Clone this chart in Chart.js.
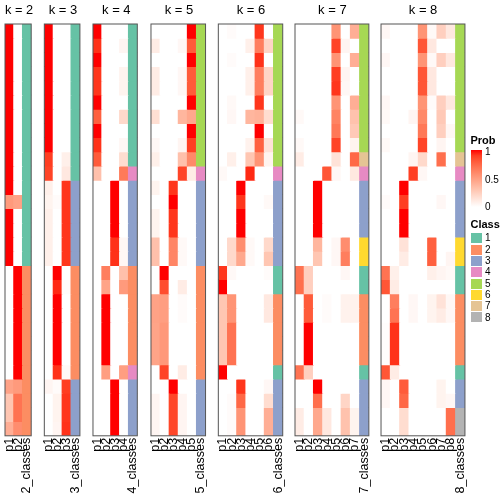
<!DOCTYPE html>
<html><head><meta charset="utf-8">
<script src="https://cdn.jsdelivr.net/npm/chart.js@4.4.0/dist/chart.umd.min.js"></script>
<style>
html,body{margin:0;padding:0;background:#fff;width:504px;height:504px;overflow:hidden;font-family:"Liberation Sans",Arial,sans-serif;}
#wrap{position:relative;width:504px;height:504px;}
canvas{position:absolute;top:0;}
.lg{position:absolute;color:#000;line-height:1;white-space:nowrap;font-family:"Liberation Sans",Arial,sans-serif;}
.lt{font-size:11px;font-weight:bold;}
.ll{font-size:10px;}
.sw{position:absolute;width:11px;height:10px;}
</style></head><body><div id="wrap"></div>
<script>
const kValues = [2,3,4,5,6,7,8];
const classColors = ['#66C2A5','#FC8D62','#8DA0CB','#E78AC3','#A6D854','#FFD92F','#E5C494','#B3B3B3'];
const classNames = ['1','2','3','4','5','6','7','8'];
const probTicks = ['1','0.5','0'];

const probs2 = [
[1,0],[1,0],[1,0],[1,0],[1,0],[1,0],[1,0],[1,0],[1,0],[1,0],[1,0],[1,0],
[0.52,0.48],
[1,0],[1,0],[1,0],[1,0],
[0,1],[0,1],[0,1],[0,1],[0,1],[0,1],[0,1],[0,1],
[0.48,0.52],[0.3,0.7],[0.3,0.7],[0.42,0.58]];
const classes2 = [1,1,1,1,1,1,1,1,1,1,1,1,1,1,1,1,1,2,2,2,2,2,2,2,2,2,2,2,2];

const probs3 = [
[1,0,0],[1,0,0],[1,0,0],[1,0,0],[1,0,0],[1,0,0],[1,0,0],[1,0,0],[1,0,0],
[0.9,0,0.08],[0.88,0,0.12],
[0.08,0,0.92],[0.06,0.02,0.92],[0.08,0,0.92],[0.08,0,0.92],[0.08,0,0.92],[0.08,0,0.92],
[0,1,0],[0,0.95,0.02],[0,1,0],[0,1,0],[0,1,0],[0,1,0],[0,1,0],[0,0.93,0.03],
[0.05,0.02,0.9],[0,0.06,0.92],[0,0.06,0.92],[0,0.05,0.93]];
const classes3 = [1,1,1,1,1,1,1,1,1,1,1,3,3,3,3,3,3,2,2,2,2,2,2,2,2,3,3,3,3];

const probs4 = [
[1,0,0,0],[0.93,0,0,0.05],[1,0,0,0],[0.92,0,0,0.06],[0.92,0,0,0.06],[1,0,0,0],
[0.78,0,0,0.2],[1,0,0,0],[0.93,0,0,0.04],[0.8,0,0,0.18],
[0.33,0,0,0.67],
[0,0,1,0],[0,0,1,0],[0,0,1,0],[0,0,1,0],[0,0,0.93,0.04],[0,0,0.93,0.04],
[0,0.65,0,0.33],[0,0.47,0,0.52],[0,1,0,0],[0,1,0,0],[0,1,0,0],[0,1,0,0],[0,1,0,0],
[0,0.5,0,0.5],
[0,0,1,0],[0,0,1,0],[0,0,1,0],[0,0,1,0]];
const classes4 = [1,1,1,1,1,1,1,1,1,1,4,3,3,3,3,3,3,2,2,2,2,2,2,2,4,3,3,3,3];

const probs5 = [
[0,0,0,0,1],[0.1,0,0,0.04,0.8],[0,0,0,0,1],[0.1,0,0,0.04,0.8],[0.1,0,0,0.04,0.8],
[0,0,0,0,1],[0.17,0,0,0.38,0.45],[0,0,0,0,1],[0.04,0,0,0.05,0.9],[0.08,0,0,0.33,0.6],
[0,0,0,0.88,0.1],
[0.06,0,0.92,0,0],[0,0,1,0,0],[0.06,0,0.92,0,0],[0.06,0,0.92,0,0],[0.33,0,0.62,0.03,0],[0.33,0,0.62,0.03,0],
[0,1,0,0,0],[0,0.85,0,0.1,0],[0.48,0.5,0,0.02,0],[0.48,0.5,0,0.02,0],[0.47,0.53,0,0,0],[0.47,0.53,0,0,0],[0.47,0.53,0,0,0],[0,0.88,0,0.1,0],
[0,0,1,0,0],[0.05,0,0.87,0.05,0],[0.05,0,0.87,0.05,0],[0.05,0,0.87,0.05,0]];
const classes5 = [5,5,5,5,5,5,5,5,5,5,4,3,3,3,3,3,3,2,2,2,2,2,2,2,2,3,3,3,3];

const probs6 = [
[0,0.02,0,0,0.92,0],[0,0,0,0.08,0.65,0.22],[0,0.02,0,0,0.93,0],[0,0,0,0.08,0.65,0.22],[0,0,0,0.08,0.65,0.22],
[0,0.03,0,0,0.92,0],[0,0.04,0,0.38,0.4,0.18],[0,0,0,0,1,0],[0,0,0,0.07,0.78,0.15],[0,0.08,0,0.3,0.55,0.06],
[0.03,0,0,0.95,0,0],
[0,0,1,0,0,0],[0,0,0.92,0,0,0.03],[0,0,1,0,0,0],[0,0,1,0,0,0],[0,0.2,0.58,0.03,0,0.2],[0,0.2,0.45,0.03,0,0.3],
[0.92,0.03,0,0,0,0.02],[1,0,0,0,0,0],
[0.3,0.55,0,0,0,0.12],[0.3,0.55,0,0,0,0.12],[0.3,0.7,0,0,0,0],[0.3,0.7,0,0,0,0],[0.3,0.7,0,0,0,0],
[1,0,0,0,0,0],
[0,0,0.92,0,0,0.04],[0,0.02,0.75,0,0,0.18],[0,0.02,0.55,0,0,0.42],[0,0.02,0.55,0,0,0.42]];
const classes6 = [5,5,5,5,5,5,5,5,5,5,4,3,3,3,3,3,3,1,1,2,2,2,2,2,1,3,3,3,3];

const probs7 = [
[0,0,0,0,0.55,0,0.42],[0,0,0,0,0.88,0.05,0],[0,0,0,0,0.55,0,0.42],[0,0,0,0,0.9,0.05,0],[0,0,0,0,0.92,0.04,0],
[0,0,0,0,0.55,0,0.42],[0.03,0,0,0,0.63,0,0.32],[0,0,0,0,0.68,0,0.28],[0.03,0,0,0,0.88,0,0.06],
[0.1,0,0,0,0.15,0,0.75],
[0,0,0,0.82,0.04,0,0.12],
[0,0,1,0,0,0,0],[0,0,1,0,0,0,0],[0,0,1,0,0,0,0],[0,0,1,0,0,0,0],
[0,0,0.38,0,0.04,0.58,0],[0,0,0.3,0,0.04,0.65,0],
[0.7,0.25,0,0,0,0.04,0],[0.72,0.25,0,0,0,0,0],
[0,0.8,0,0.02,0,0.07,0.07],[0,0.8,0,0.02,0,0.07,0.07],[0,1,0,0,0,0,0],[0,1,0,0,0,0,0],[0,1,0,0,0,0,0],
[0.7,0.25,0,0,0,0,0],
[0,0,1,0,0,0,0],[0,0,0.72,0,0,0.22,0],[0.1,0,0.45,0.12,0,0.32,0.06],[0.1,0,0.45,0.12,0,0.32,0.06]];
const classes7 = [5,5,5,5,5,5,5,5,5,7,4,3,3,3,3,6,6,1,1,2,2,2,2,2,1,3,3,3,3];

const probs8 = [
[0.04,0,0,0,0.55,0.03,0.25,0.12],[0,0,0,0,0.82,0.12,0,0],[0.04,0,0,0,0.55,0.03,0.25,0.12],[0,0,0,0,0.82,0.12,0,0],[0,0,0,0,0.82,0.12,0,0],
[0.04,0,0,0,0.55,0.02,0.25,0.12],[0.03,0,0,0.05,0.6,0,0.28,0],[0,0,0,0,0.68,0,0.25,0.04],[0.03,0,0,0,0.88,0,0.05,0],
[0,0,0,0.05,0.2,0,0.72,0],
[0,0,0,0.9,0.04,0,0,0],
[0,0,1,0,0,0,0,0],[0.02,0,0.9,0,0,0,0.04,0],[0,0,1,0,0,0,0,0],[0,0,1,0,0,0,0,0],
[0,0,0.15,0,0,0.78,0,0],[0,0,0.1,0,0,0.78,0,0.05],
[0.7,0.08,0,0,0,0.08,0.05,0.03],[0.82,0.1,0,0,0,0,0,0],
[0,0.65,0,0.04,0,0.06,0.15,0.04],[0,0.7,0,0.04,0,0.06,0.1,0.04],[0.01,0.93,0,0,0,0,0,0],[0.01,0.93,0,0,0,0,0,0],[0.01,0.93,0,0,0,0,0,0],
[0.82,0.1,0,0,0,0,0,0],
[0.04,0,0.8,0,0,0,0.06,0],[0.04,0,0.75,0,0,0,0.06,0.04],[0,0,0.18,0,0,0,0,0.72],[0,0,0.18,0,0,0,0,0.72]];
const classes8 = [5,5,5,5,5,5,5,5,5,7,4,3,3,3,3,6,6,1,1,2,2,2,2,2,1,3,3,8,8];

const allProbs = [probs2,probs3,probs4,probs5,probs6,probs7,probs8];
const allClasses = [classes2,classes3,classes4,classes5,classes6,classes7,classes8];

// ---- colour ramp white -> red in LAB space ----
function s2l(c){c/=255;return c<=0.04045?c/12.92:Math.pow((c+0.055)/1.055,2.4);}
function l2s(c){c=c<=0.0031308?12.92*c:1.055*Math.pow(c,1/2.4)-0.055;return Math.round(Math.max(0,Math.min(1,c))*255);}
const WX=0.95047,WY=1,WZ=1.08883;
function f(t){return t>0.008856?Math.cbrt(t):(7.787*t+16/116);}
function fi(t){return t>0.206893?t*t*t:(t-16/116)/7.787;}
function rgb2lab(r,g,b){r=s2l(r);g=s2l(g);b=s2l(b);
 const X=(0.4124*r+0.3576*g+0.1805*b)/WX,Y=(0.2126*r+0.7152*g+0.0722*b)/WY,Z=(0.0193*r+0.1192*g+0.9505*b)/WZ;
 return [116*f(Y)-16,500*(f(X)-f(Y)),200*(f(Y)-f(Z))];}
function lab2rgb(L,a,b){const fy=(L+16)/116,fx=fy+a/500,fz=fy-b/200;
 const X=fi(fx)*WX,Y=fi(fy)*WY,Z=fi(fz)*WZ;
 const r=3.2406*X-1.5372*Y-0.4986*Z,g=-0.9689*X+1.8758*Y+0.0415*Z,bb=0.0557*X-0.2040*Y+1.0570*Z;
 return 'rgb('+l2s(r)+','+l2s(g)+','+l2s(bb)+')';}
const LAB0=rgb2lab(255,255,255),LAB1=rgb2lab(255,0,0);
function probColor(v){return lab2rgb(LAB0[0]+(LAB1[0]-LAB0[0])*v,LAB0[1]+(LAB1[1]-LAB0[1])*v,LAB0[2]+(LAB1[2]-LAB0[2])*v);}

// ---- layout ----
const FONT='"Liberation Sans", Arial, sans-serif';
const COLW=9.34, GAP=11.3, X0=5, TOP=24, BOTTOM=435.8, H=504;
const wrap=document.getElementById('wrap');

const framePlugin={id:'frame',afterDatasetsDraw(chart){const {ctx,chartArea:a}=chart;ctx.save();ctx.strokeStyle='#555';ctx.lineWidth=1;ctx.strokeRect(a.left,a.top,a.right-a.left,a.bottom-a.top);ctx.restore();}};

let colsBefore=0;
kValues.forEach((k,idx)=>{
  const probs=allProbs[idx], classes=allClasses[idx];
  const ncol=k+1, W=ncol*COLW;
  const L=X0+colsBefore*COLW+idx*GAP;
  colsBefore+=ncol;
  const cl=Math.floor(L)-12, padL=L-cl, cw=Math.ceil(W+24), padR=cw-padL-W;
  const cv=document.createElement('canvas');
  cv.width=cw;cv.height=H;cv.style.left=cl+'px';cv.style.width=cw+'px';cv.style.height=H+'px';
  wrap.appendChild(cv);
  const labels=[];for(let i=1;i<=k;i++)labels.push('p'+i);labels.push(k+'_classes');
  const datasets=probs.map((row,r)=>({
    label:'row '+(r+1),
    data:labels.map(()=>[r,r+1]),
    backgroundColor:row.map(probColor).concat(classColors[classes[r]-1]),
    borderWidth:0,barPercentage:1,categoryPercentage:1,grouped:false,inflateAmount:0.5
  }));
  new Chart(cv,{type:'bar',data:{labels,datasets},plugins:[framePlugin],
    options:{responsive:false,animation:false,events:[],
      layout:{padding:{left:padL,right:padR,top:0,bottom:0}},
      plugins:{legend:{display:false},tooltip:{enabled:false},
        title:{display:true,text:'k = '+k,color:'#000',font:{family:FONT,size:13,weight:'normal',lineHeight:1.2},padding:{top:2.7,bottom:5.7}}},
      scales:{
        x:{type:'category',offset:true,grid:{display:false,drawTicks:false},border:{display:false},
          ticks:{color:'#000',font:{family:FONT,size:12.5},minRotation:90,maxRotation:90,autoSkip:false,padding:2},
          afterFit(s){s.height=H-BOTTOM;}},
        y:{type:'linear',min:0,max:29,reverse:true,display:false}
      }}});
});

// ---- legends (HTML) ----
function addDiv(cls,text,left,top,extra){const d=document.createElement('div');d.className=cls;if(text!==null)d.textContent=text;d.style.left=left+'px';d.style.top=top+'px';if(extra)Object.assign(d.style,extra);wrap.appendChild(d);return d;}
addDiv('lg lt','Prob',470.5,134.7);
const stops=[];for(let i=0;i<=10;i++){stops.push(probColor(1-i/10)+' '+(i*10)+'%');}
addDiv('sw',null,470.7,149.5,{height:'57px',background:'linear-gradient(to bottom,'+stops.join(',')+')'});
const tickTops=[147,175,201.8];
probTicks.forEach((t,i)=>addDiv('lg ll',t,485,tickTops[i]));
addDiv('lg lt','Class',470.5,219);
classNames.forEach((n,i)=>{
  const cy=238.3+11.3*i;
  addDiv('sw',null,470.7,cy-5,{background:classColors[i]});
  addDiv('lg ll',n,485,cy+3.6-8.47);
});
</script></body></html>
